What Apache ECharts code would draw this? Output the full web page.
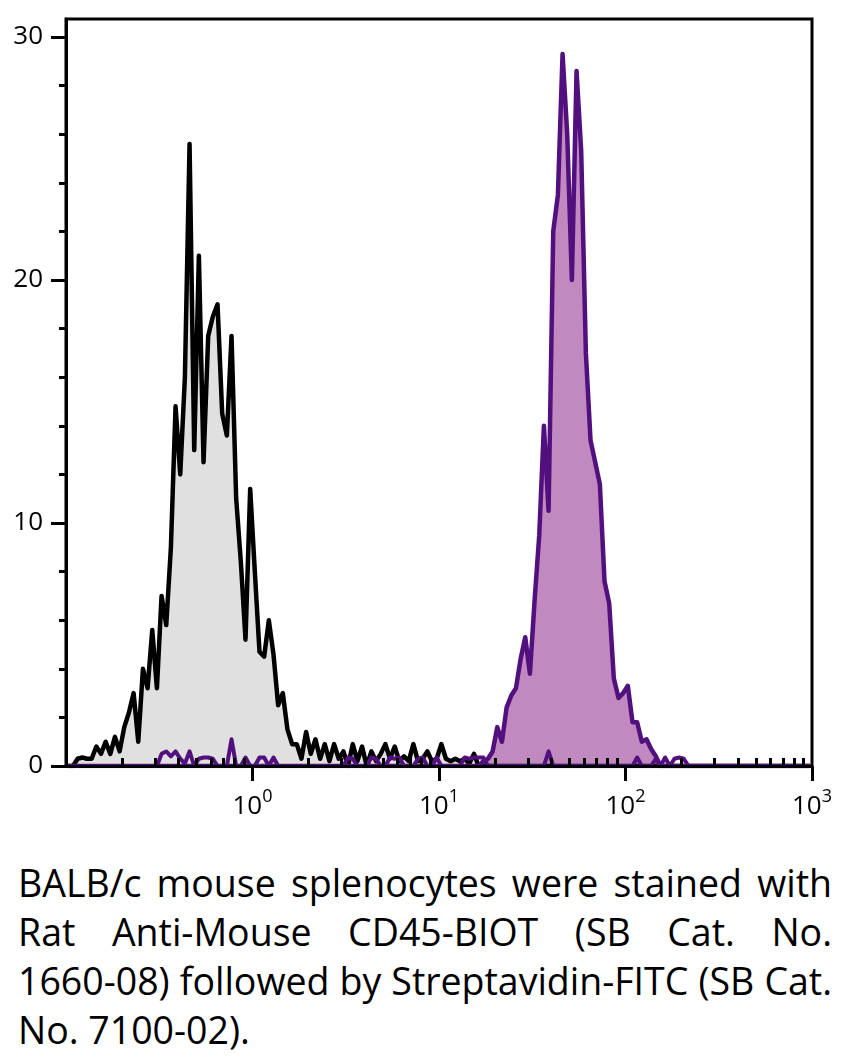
<!DOCTYPE html>
<html>
<head>
<meta charset="utf-8">
<script src="https://cdn.jsdelivr.net/npm/echarts@6/dist/echarts.min.js"></script>
<style>
    html, body { margin: 0; padding: 0; background: #fff; }
    #main { position: absolute; left: 0; top: 0; width: 844px; height: 850px; }
    #caption {
        position: absolute; left: 18px; top: 858px; width: 814px;
        font-family: 'Open Sans', 'Noto Sans', sans-serif; font-size: 38px;
        line-height: 49px; color: #000;
    }
    #caption .ln { white-space: nowrap; text-align: justify; text-align-last: justify; transform-origin: 0 0; }
    #caption .ln.last { text-align-last: left; }
</style>
</head>
<body>
<div id="main"></div>
<div id="caption">
    <div class="ln"><span>BALB/c mouse splenocytes were stained with</span></div>
    <div class="ln"><span>Rat Anti-Mouse CD45-BIOT (SB Cat. No.</span></div>
    <div class="ln"><span>1660-08) followed by Streptavidin-FITC (SB Cat.</span></div>
    <div class="ln last"><span>No. 7100-02).</span></div>
</div>
<script>
    // histogram channels: 40 bins per decade, starting at 10^-1
    var binsPerDecade = 40;
    var firstDecade = -1;

    // unstained control (black outline, grey fill)
    var controlCounts = [
        0, 0, 0.3, 0.35, 0.3, 0.3, 0.8, 0.5, 1.0, 0.5, 1.2, 0.6, 1.6, 2.2, 3.0, 1.0, 4.0, 3.2, 5.6, 3.2,
        7.0, 5.8, 9.0, 14.8, 12.0, 16.0, 25.6, 13.0, 21.0, 12.5, 17.7, 18.5, 19.0, 14.5, 13.6, 17.7, 11.0, 8.4, 5.2, 11.4,
        8.0, 4.7, 4.5, 6.0, 4.6, 2.5, 3.0, 1.5, 0.9, 0.9, 0.3, 1.4, 0.5, 1.1, 0.3, 0.9, 0.2, 0.9, 0.3, 0.6,
        0, 0.9, 0.2, 0.8, 0, 0.6, 0.2, 0.5, 0.9, 0.3, 0.8, 0.2, 0.4, 0.2, 0.9, 0.2, 0.3, 0.6, 0.2, 0.3,
        0.9, 0.3, 0.2, 0.3, 0.2, 0.3, 0.1, 0.5, 0, 0, 0, 0, 0, 0, 0, 0, 0, 0, 0, 0,
        0, 0, 0, 0, 0, 0, 0, 0, 0, 0, 0, 0, 0, 0, 0, 0, 0, 0, 0, 0,
        0, 0, 0, 0, 0, 0, 0, 0, 0, 0, 0, 0, 0, 0, 0, 0, 0, 0, 0, 0,
        0, 0, 0, 0, 0, 0, 0, 0, 0, 0, 0, 0, 0, 0, 0, 0, 0, 0, 0, 0
    ];

    // CD45 stained cells (purple)
    var stainedCounts = [
        0, 0, 0, 0, 0, 0, 0, 0, 0, 0, 0, 0, 0, 0, 0, 0, 0, 0, 0, 0,
        0, 0, 0, 0, 0, 0, 0, 0, 0, 0, 0, 0, 0, 0, 0, 0, 0, 0, 0, 0,
        0, 0, 0, 0, 0, 0, 0, 0, 0, 0, 0, 0, 0, 0, 0, 0, 0, 0, 0, 0,
        0, 0, 0, 0, 0, 0, 0, 0, 0, 0, 0, 0, 0, 0, 0, 0, 0, 0, 0, 0,
        0, 0, 0, 0, 0, 0, 0, 0, 0, 0.2, 0.3, 0.6, 1.6, 1.0, 2.4, 2.9, 3.2, 4.4, 5.3, 3.8,
        6.8, 9.5, 14.0, 10.5, 22.0, 23.5, 29.3, 26.0, 20.0, 28.6, 25.3, 17.0, 13.4, 12.5, 11.6, 7.6, 6.7, 3.6, 2.8, 3.0,
        3.3, 1.8, 1.8, 1.0, 1.1, 0.7, 0.4, 0, 0, 0, 0, 0, 0, 0, 0, 0, 0, 0, 0, 0,
        0, 0, 0, 0, 0, 0, 0, 0, 0, 0, 0, 0, 0, 0, 0, 0, 0, 0, 0, 0
    ];

    // scattered low purple events along the baseline
    var stainedLow = [
        0, 0, 0, 0, 0, 0, 0, 0, 0, 0, 0, 0, 0, 0, 0, 0, 0, 0, 0, 0,
        0.5, 0.6, 0.4, 0.6, 0.3, 0.1, 0.6, 0, 0.3, 0.35, 0.35, 0.3, 0, 0, 0, 1.1, 0, 0, 0.35, 0,
        0, 0.35, 0.35, 0, 0.35, 0, 0, 0, 0, 0, 0, 0, 0, 0, 0, 0, 0, 0, 0, 0,
        0.35, 0.3, 0, 0, 0, 0.35, 0.3, 0, 0, 0.35, 0.3, 0.35, 0, 0, 0, 0.3, 0.35, 0, 0, 0.35,
        0, 0, 0, 0, 0, 0.35, 0.3, 0.35, 0.35, 0.35, 0, 0, 0, 0, 0, 0, 0, 0, 0, 0,
        0, 0, 0, 0.6, 0, 0, 0, 0, 0, 0, 0, 0, 0, 0, 0, 0, 0, 0, 0, 0,
        0, 0, 0.35, 0, 0, 0, 0.3, 0, 0.35, 0, 0.3, 0.35, 0.3, 0, 0, 0, 0, 0, 0, 0,
        0, 0, 0, 0, 0, 0, 0, 0, 0, 0, 0, 0, 0, 0, 0, 0, 0, 0, 0, 0
    ];

    var xMajorTicks = [1, 10, 100, 1000];
    var xMinorTicks = [0.2, 0.3, 0.4, 0.5, 0.6, 0.7, 0.8, 0.9,
        2, 3, 4, 5, 6, 7, 8, 9,
        20, 30, 40, 50, 60, 70, 80, 90,
        200, 300, 400, 500, 600, 700, 800, 900];
    var yMajorTicks = [0, 10, 20, 30];
    var yMinorTicks = [2, 4, 6, 8, 12, 14, 16, 18, 22, 24, 26, 28];

    var FONT = "'Open Sans', 'Noto Sans', sans-serif";

    function toPairs(counts) {
        var out = [];
        for (var i = 0; i < counts.length; i++) {
            var x = Math.pow(10, firstDecade + (i + 0.5) / binsPerDecade);
            out.push([x, counts[i]]);
        }
        return out;
    }

    var my_chart = echarts.init(document.getElementById('main'), null, {renderer: 'canvas'});

    var xBase = {
        type: 'log',
        logBase: 10,
        min: 0.1,
        max: 1000,
        splitLine: {show: false},
        minorTick: {show: false}
    };
    var yBase = {
        type: 'value',
        min: 0,
        max: 30.74,
        position: 'left',
        splitLine: {show: false}
    };

    var option = {
        animation: false,
        backgroundColor: '#fff',
        grid: {
            left: 66, right: 32, top: 19, height: 747,
            show: true, borderColor: '#000', borderWidth: 3,
            outerBoundsMode: 'none'
        },
        xAxis: [
            Object.assign({}, xBase, {
                z: 5,
                axisLine: {lineStyle: {color: '#000', width: 3}},
                axisTick: {length: 15, customValues: xMajorTicks, lineStyle: {color: '#000', width: 3}},
                axisLabel: {
                    customValues: xMajorTicks,
                    margin: 22,
                    color: '#000',
                    formatter: function (v) {
                        var e = Math.round(Math.log(v) / Math.LN10);
                        return '{b|10}{s|' + e + '}';
                    },
                    rich: {
                        b: {fontSize: 26, fontFamily: FONT, color: '#000', lineHeight: 32, verticalAlign: 'bottom'},
                        s: {fontSize: 18, fontFamily: FONT, color: '#000', lineHeight: 10, verticalAlign: 'top'}
                    }
                }
            }),
            Object.assign({}, xBase, {
                z: 5,
                axisLine: {show: false},
                axisTick: {length: 8, customValues: xMinorTicks, lineStyle: {color: '#000', width: 3}},
                axisLabel: {show: false}
            })
        ],
        yAxis: [
            Object.assign({}, yBase, {
                z: 5,
                axisLine: {show: true, lineStyle: {color: '#000', width: 3}},
                axisTick: {show: true, length: 15, customValues: yMajorTicks, lineStyle: {color: '#000', width: 3}},
                axisLabel: {
                    customValues: yMajorTicks,
                    margin: 23,
                    color: '#000',
                    fontSize: 26,
                    fontFamily: FONT
                }
            }),
            Object.assign({}, yBase, {
                z: 5,
                axisLine: {show: false},
                axisTick: {show: true, length: 7, customValues: yMinorTicks, lineStyle: {color: '#000', width: 3}},
                axisLabel: {show: false}
            })
        ],
        series: [
            {
                name: 'control',
                type: 'line',
                xAxisIndex: 0,
                yAxisIndex: 0,
                data: toPairs(controlCounts),
                symbol: 'none',
                lineStyle: {color: '#000', width: 4.5, join: 'round'},
                areaStyle: {color: '#e0e0e0', opacity: 1}
            },
            {
                name: 'CD45',
                type: 'line',
                xAxisIndex: 0,
                yAxisIndex: 0,
                data: toPairs(stainedCounts),
                symbol: 'none',
                lineStyle: {color: '#52107f', width: 4.5, join: 'round'},
                areaStyle: {color: '#c08ac1', opacity: 1}
            },
            {
                name: 'CD45 low',
                type: 'line',
                xAxisIndex: 0,
                yAxisIndex: 0,
                data: toPairs(stainedLow),
                symbol: 'none',
                lineStyle: {color: '#52107f', width: 4, join: 'round'}
            }
        ]
    };

    my_chart.setOption(option);

    // justify caption lines, squeezing them slightly to fit like the narrow original font
    (function () {
        var lines = document.querySelectorAll('#caption .ln');
        var maxW = 0;
        for (var i = 0; i < lines.length; i++) {
            var w = lines[i].firstElementChild.getBoundingClientRect().width;
            if (w > maxW) maxW = w;
        }
        var W = maxW + 2;
        var s = 814 / W;
        for (var j = 0; j < lines.length; j++) {
            lines[j].style.whiteSpace = 'normal';
            lines[j].style.width = W + 'px';
            lines[j].style.transform = 'scaleX(' + s + ')';
        }
    })();
</script>
</body>
</html>
